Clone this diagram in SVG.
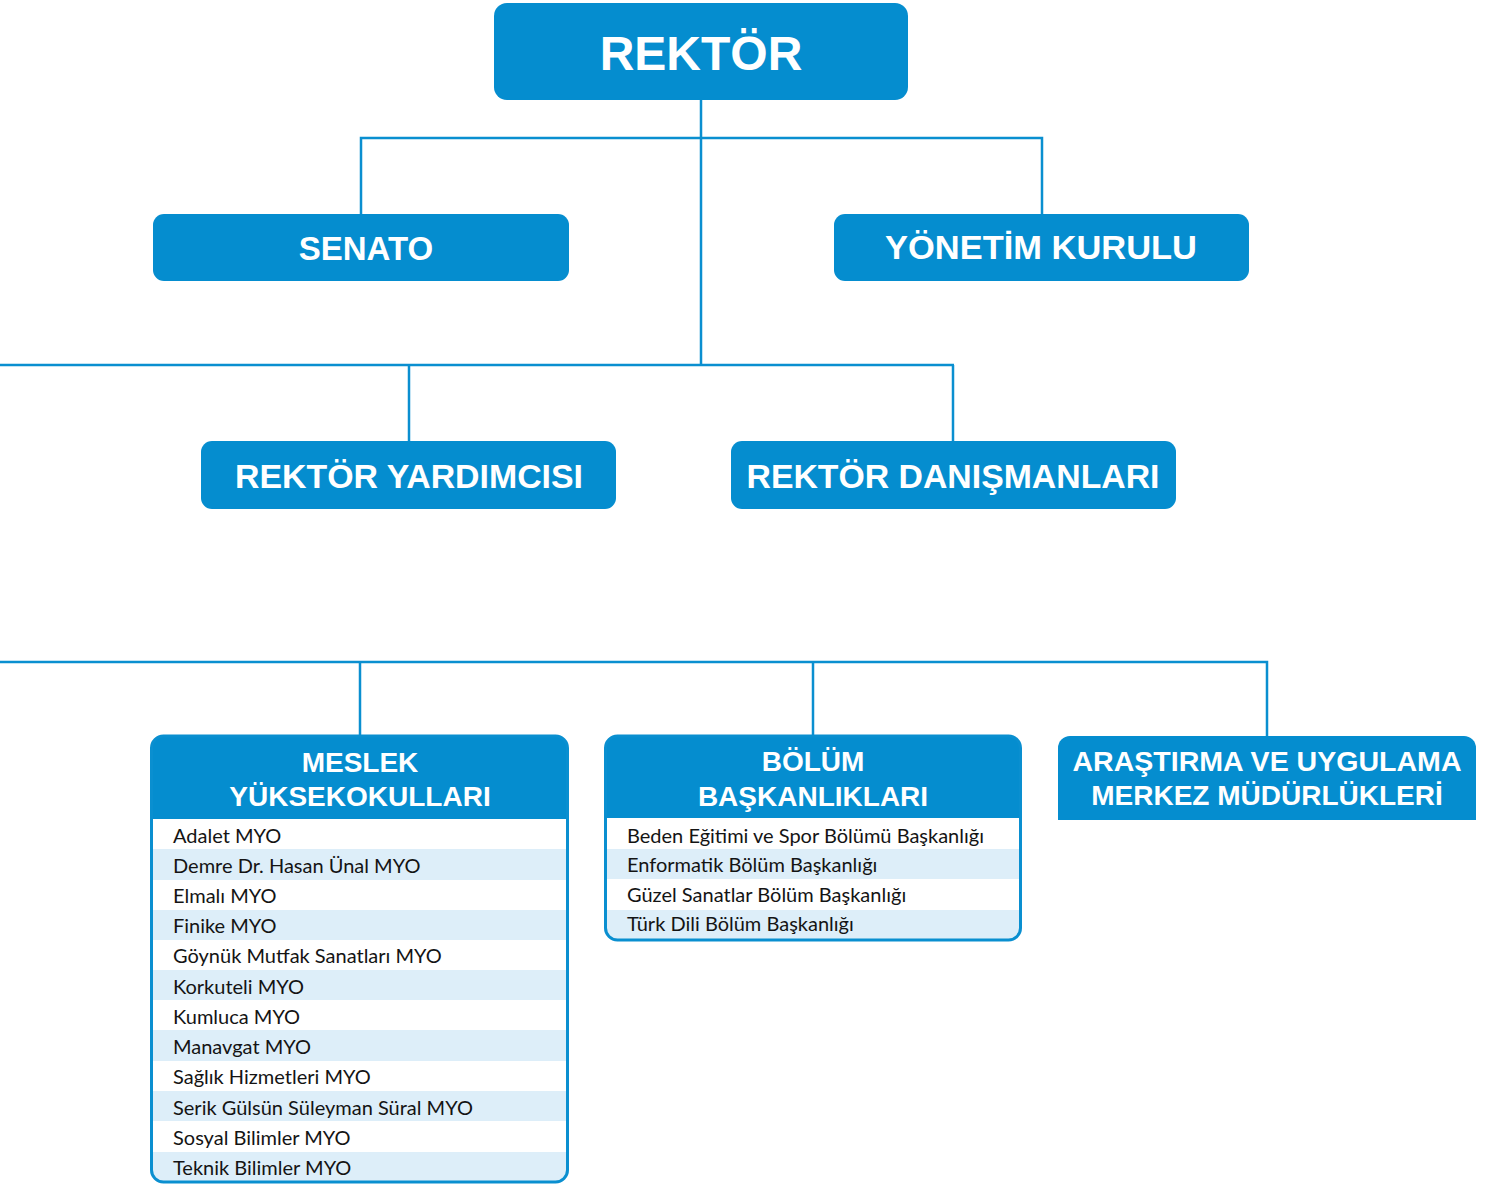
<svg xmlns="http://www.w3.org/2000/svg" width="1488" height="1184" viewBox="0 0 1488 1184">
<style>
.box{fill:#058dcf}
.hd{font-family:"Liberation Sans",Arial,sans-serif;font-weight:bold;fill:#ffffff;text-anchor:middle}
.it{font-family:Lato,"Liberation Sans",sans-serif;font-size:20px;fill:#141414}
.st{fill:#ddeef9}
.ln{stroke:#0a8fd0;stroke-width:2.5;fill:none}
.bd{stroke:#0a8fd0;stroke-width:3;fill:none}
</style>
<defs>
<clipPath id="c1"><rect x="151.5" y="736" width="416" height="446" rx="12"/></clipPath>
<clipPath id="c2"><rect x="605.5" y="736" width="415" height="204" rx="12"/></clipPath>
</defs>
<rect width="1488" height="1184" fill="#ffffff"/>
<g id="connectors" class="ln">
<path d="M701 100V365"/>
<path d="M361 215V138H1042V215"/>
<path d="M0 365H954"/>
<path d="M409 365V442"/>
<path d="M953 365V442"/>
<path d="M0 662H1267V737"/>
<path d="M360 662V737"/>
<path d="M813 662V737"/>
</g>
<g id="rektor">
<rect class="box" x="494" y="3" width="414" height="97" rx="13"/>
<text class="hd" x="701" y="70" font-size="48">REKTÖR</text>
</g>
<g id="senato">
<rect class="box" x="153" y="214" width="416" height="67" rx="11"/>
<text class="hd" x="366" y="260" font-size="33">SENATO</text>
</g>
<g id="yonetim">
<rect class="box" x="834" y="214" width="415" height="67" rx="11"/>
<text class="hd" x="1041" y="259" font-size="33" textLength="312" lengthAdjust="spacingAndGlyphs">YÖNETİM KURULU</text>
</g>
<g id="yardimci">
<rect class="box" x="201" y="441" width="415" height="68" rx="11"/>
<text class="hd" x="409" y="488" font-size="33" textLength="348" lengthAdjust="spacingAndGlyphs">REKTÖR YARDIMCISI</text>
</g>
<g id="danisman">
<rect class="box" x="731" y="441" width="445" height="68" rx="11"/>
<text class="hd" x="953" y="488" font-size="33" textLength="413" lengthAdjust="spacingAndGlyphs">REKTÖR DANIŞMANLARI</text>
</g>
<g id="myo">
<g clip-path="url(#c1)">
<rect x="151" y="736" width="418" height="448" fill="#ffffff"/>
<rect class="st" x="151" y="849" width="418" height="31"/>
<rect class="st" x="151" y="910" width="418" height="30"/>
<rect class="st" x="151" y="970" width="418" height="30"/>
<rect class="st" x="151" y="1030" width="418" height="31"/>
<rect class="st" x="151" y="1091" width="418" height="30"/>
<rect class="st" x="151" y="1152" width="418" height="32"/>
<rect class="box" x="151" y="736" width="418" height="83"/>
</g>
<rect class="bd" x="151.5" y="736" width="416" height="446" rx="12"/>
<text class="hd" x="360" y="772" font-size="28">MESLEK</text>
<text class="hd" x="360" y="806" font-size="28">YÜKSEKOKULLARI</text>
<text class="it" x="173" y="843">Adalet MYO</text>
<text class="it" x="173" y="873">Demre Dr. Hasan Ünal MYO</text>
<text class="it" x="173" y="903">Elmalı MYO</text>
<text class="it" x="173" y="933">Finike MYO</text>
<text class="it" x="173" y="963">Göynük Mutfak Sanatları MYO</text>
<text class="it" x="173" y="994">Korkuteli MYO</text>
<text class="it" x="173" y="1024">Kumluca MYO</text>
<text class="it" x="173" y="1054">Manavgat MYO</text>
<text class="it" x="173" y="1084">Sağlık Hizmetleri MYO</text>
<text class="it" x="173" y="1115">Serik Gülsün Süleyman Süral MYO</text>
<text class="it" x="173" y="1145">Sosyal Bilimler MYO</text>
<text class="it" x="173" y="1175">Teknik Bilimler MYO</text>
</g>
<g id="bolum">
<g clip-path="url(#c2)">
<rect x="605" y="736" width="417" height="206" fill="#ffffff"/>
<rect class="st" x="605" y="849" width="417" height="30"/>
<rect class="st" x="605" y="910" width="417" height="32"/>
<rect class="box" x="605" y="736" width="417" height="82"/>
</g>
<rect class="bd" x="605.5" y="736" width="415" height="204" rx="12"/>
<text class="hd" x="813" y="771" font-size="28">BÖLÜM</text>
<text class="hd" x="813" y="806" font-size="28">BAŞKANLIKLARI</text>
<text class="it" x="627" y="843">Beden Eğitimi ve Spor Bölümü Başkanlığı</text>
<text class="it" x="627" y="872">Enformatik Bölüm Başkanlığı</text>
<text class="it" x="627" y="902">Güzel Sanatlar Bölüm Başkanlığı</text>
<text class="it" x="627" y="931">Türk Dili Bölüm Başkanlığı</text>
</g>
<g id="arastirma">
<path class="box" d="M1058 820V748A12 12 0 0 1 1070 736H1464A12 12 0 0 1 1476 748V820Z"/>
<text class="hd" x="1267" y="771" font-size="28" textLength="389" lengthAdjust="spacingAndGlyphs">ARAŞTIRMA VE UYGULAMA</text>
<text class="hd" x="1267" y="805" font-size="28">MERKEZ MÜDÜRLÜKLERİ</text>
</g>
</svg>
